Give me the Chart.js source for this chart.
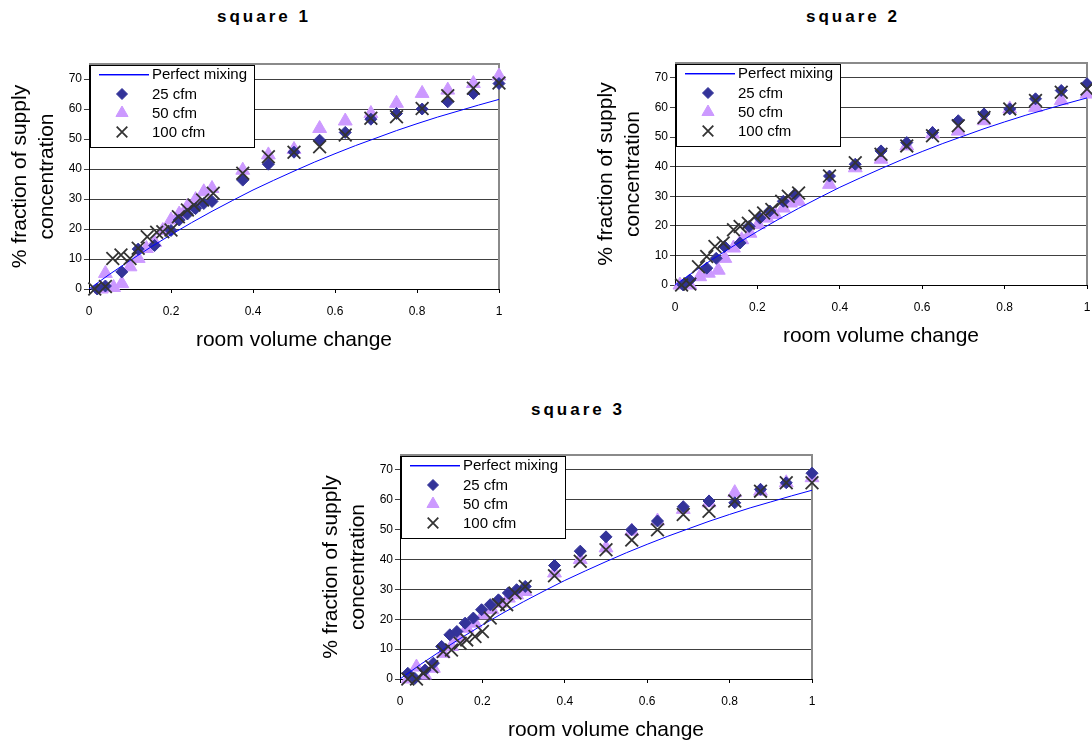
<!DOCTYPE html>
<html>
<head>
<meta charset="utf-8">
<script src="https://cdn.jsdelivr.net/npm/chart.js@4.4.1/dist/chart.umd.min.js"></script>
<style>
  html, body { margin: 0; padding: 0; background: #fff; }
  body { width: 1092px; height: 740px; overflow: hidden; position: relative; font-family: "Liberation Sans", Arial, sans-serif; }
  .title { position: absolute; font-weight: bold; font-size: 17px; line-height: 17px; letter-spacing: 3px; white-space: nowrap; color: #000; }
  canvas { position: absolute; }
</style>
</head>
<body>
<div class="title" style="left:217px;top:8px">square 1</div>
<div class="title" style="left:806px;top:8px">square 2</div>
<div class="title" style="left:531px;top:401px">square 3</div>
<canvas id="sq1" width="546" height="320" style="left:0;top:40px"></canvas>
<canvas id="sq2" width="546" height="316" style="left:586px;top:40px"></canvas>
<canvas id="sq3" width="546" height="319" style="left:311px;top:431px"></canvas>
<script>
// perfect mixing curve
const mixX = [0, 0.05, 0.1, 0.15, 0.2, 0.25, 0.3, 0.35, 0.4, 0.45, 0.5, 0.55, 0.6, 0.65, 0.7, 0.75, 0.8, 0.85, 0.9, 0.95, 1.0];
const mixY = [0, 4.9, 9.5, 13.9, 18.1, 22.1, 25.9, 29.5, 33.0, 36.2, 39.3, 42.3, 45.1, 47.8, 50.3, 52.8, 55.1, 57.3, 59.3, 61.3, 63.2];

const seriesLabels = ['Perfect mixing', '25 cfm', '50 cfm', '100 cfm'];
const xTitle = 'room volume change';
const yTitle = ['% fraction of supply', 'concentration'];

// square 1
const sq1x25 = [0.02, 0.04, 0.08, 0.12, 0.16, 0.2, 0.22, 0.24, 0.26, 0.28, 0.3, 0.375, 0.4375, 0.5, 0.5625, 0.625, 0.6875, 0.75, 0.8125, 0.875, 0.9375, 1.0];
const sq1y25 = [0, 1, 5.7, 13.3, 14.5, 19.5, 23, 25, 26.8, 28.5, 29.2, 36.3, 41.6, 45.6, 49.6, 52.2, 56.6, 58.5, 60, 62.4, 65.2, 68.5];
const sq1x50 = [0.03, 0.04, 0.06, 0.08, 0.1, 0.12, 0.14, 0.16, 0.18, 0.2, 0.22, 0.24, 0.26, 0.28, 0.3, 0.375, 0.4375, 0.5, 0.5625, 0.625, 0.6875, 0.75, 0.8125, 0.875, 0.9375, 1.0];
const sq1y50 = [0, 5.2, 0.5, 1.8, 7.4, 10.2, 13.5, 15.5, 19.5, 23, 25, 27.5, 29.8, 32.4, 33.5, 39.6, 44.7, 46.5, 53.5, 56, 58.5, 61.9, 65.2, 66.3, 68.5, 71];
const sq1x100 = [0.014, 0.04, 0.058, 0.078, 0.1, 0.12, 0.142, 0.165, 0.18, 0.2, 0.218, 0.24, 0.256, 0.277, 0.303, 0.375, 0.4375, 0.5, 0.5625, 0.625, 0.6875, 0.75, 0.8125, 0.875, 0.9375, 1.0];
const sq1y100 = [0, 0.8, 10.2, 11.3, 10.2, 13.6, 17.4, 18.9, 19.1, 19.7, 24.1, 26.3, 28, 29.7, 31.9, 38.6, 44.1, 45.6, 47.4, 51.3, 56.9, 57.4, 60.2, 64.4, 66.9, 68.7];

// square 2
const sq2x25 = [0.02, 0.036, 0.077, 0.1, 0.12, 0.158, 0.18, 0.206, 0.23, 0.263, 0.291, 0.375, 0.4375, 0.5, 0.5625, 0.625, 0.6875, 0.75, 0.8125, 0.875, 0.9375, 1.0];
const sq2y25 = [0, 1.7, 5.7, 9, 13, 14.2, 19.8, 22.6, 25, 28.3, 30.6, 36.8, 40.8, 45.3, 48.1, 51.5, 55.5, 57.8, 59.5, 62.9, 65.7, 68];
const sq2x50 = [0.012, 0.036, 0.06, 0.081, 0.105, 0.121, 0.142, 0.162, 0.182, 0.202, 0.223, 0.243, 0.263, 0.28, 0.3, 0.375, 0.4375, 0.5, 0.5625, 0.625, 0.6875, 0.75, 0.8125, 0.875, 0.9375, 1.0];
const sq2y50 = [0, 0, 2.8, 4, 5, 9, 12.5, 15.3, 17.5, 20.4, 22.6, 23.8, 26, 27.7, 28.3, 34, 39.6, 42.5, 47, 51, 52, 55.5, 59.5, 60, 62.3, 64.5];
const sq2x100 = [0.016, 0.036, 0.057, 0.077, 0.097, 0.117, 0.142, 0.158, 0.178, 0.194, 0.215, 0.235, 0.259, 0.275, 0.3, 0.375, 0.4375, 0.5, 0.5625, 0.625, 0.6875, 0.75, 0.8125, 0.875, 0.9375, 1.0];
const sq2y100 = [0, 0.3, 6.2, 9.6, 13, 14.2, 18.7, 19.8, 20.9, 23.2, 24.3, 25.5, 28.3, 30, 31.1, 36.8, 41.3, 44.2, 47, 50.4, 53.8, 56.6, 59.5, 62.3, 65.1, 66.2];

// square 3
const sq3x25 = [0.019, 0.036, 0.061, 0.081, 0.101, 0.121, 0.138, 0.158, 0.178, 0.198, 0.219, 0.239, 0.263, 0.283, 0.304, 0.375, 0.4375, 0.5, 0.5625, 0.625, 0.6875, 0.75, 0.8125, 0.875, 0.9375, 1.0];
const sq3y25 = [1.9, 0.2, 3, 5.3, 10.9, 14.8, 15.9, 18.7, 20.4, 23.2, 24.9, 26.5, 28.8, 29.9, 31, 38, 42.8, 47.6, 50, 52.9, 57.7, 59.6, 59, 63.5, 65.7, 68.9];
const sq3x50 = [0.02, 0.04, 0.06, 0.081, 0.105, 0.125, 0.142, 0.162, 0.182, 0.202, 0.223, 0.243, 0.263, 0.283, 0.304, 0.375, 0.4375, 0.5, 0.5625, 0.625, 0.6875, 0.75, 0.8125, 0.875, 0.9375, 1.0];
const sq3y50 = [0, 4, 1.3, 3.6, 8.6, 10.9, 13.7, 17, 18.7, 21.5, 23.2, 25.4, 27.1, 28.2, 29.3, 35.5, 40, 43.9, 49.5, 52.9, 56.8, 59, 62.4, 62.9, 65.7, 67.4];
const sq3x100 = [0.019, 0.04, 0.057, 0.077, 0.105, 0.125, 0.146, 0.162, 0.182, 0.2, 0.219, 0.239, 0.259, 0.279, 0.304, 0.375, 0.4375, 0.5, 0.5625, 0.625, 0.6875, 0.75, 0.8125, 0.875, 0.9375, 1.0];
const sq3y100 = [0, 0, 1.9, 4.1, 9.2, 9.7, 12, 13.1, 14.2, 15.9, 20.4, 24.9, 24.9, 28.8, 31, 34.6, 39.4, 43.3, 46.5, 50, 55.1, 56.2, 59.6, 62.9, 65.7, 65.7];

const mixColor = '#0000ff';
const c25 = '#333399';
const c50 = '#cc99ff';
const c100 = '#333333';

Chart.defaults.font.family = '"Liberation Sans", Arial, sans-serif';
Chart.defaults.color = '#000';

function pts(xs, ys) {
  return xs.map((x, i) => ({ x: x, y: ys[i] }));
}

// gray frame on top and right of the plot area
const plotFrame = {
  id: 'plotFrame',
  beforeDatasetsDraw(chart) {
    const ctx = chart.ctx, a = chart.chartArea;
    ctx.save();
    ctx.strokeStyle = '#8a8a8a';
    ctx.lineWidth = 2;
    ctx.beginPath();
    ctx.moveTo(a.left, a.top);
    ctx.lineTo(a.right, a.top);
    ctx.lineTo(a.right, a.bottom);
    ctx.stroke();
    ctx.restore();
  }
};

// boxed legend in the top-left corner of the plot
const boxLegend = {
  id: 'boxLegend',
  afterDraw(chart) {
    const ctx = chart.ctx, a = chart.chartArea;
    const x0 = Math.round(a.left) + 1, y0 = Math.round(a.top) + 1, w = 164, h = 82;
    const rows = [9, 29, 48, 67];
    const sizes = [0, 5.5, 7, 7.5];
    ctx.save();
    ctx.fillStyle = '#fff';
    ctx.fillRect(x0, y0, w, h);
    ctx.strokeStyle = '#000';
    ctx.lineWidth = 1;
    ctx.strokeRect(x0 + 0.5, y0 + 0.5, w, h);
    ctx.font = '15px "Liberation Sans", Arial, sans-serif';
    ctx.textBaseline = 'middle';
    chart.data.datasets.forEach((ds, i) => {
      const y = y0 + rows[i];
      if (i === 0) {
        ctx.fillStyle = mixColor;
        ctx.fillRect(x0 + 9, y, 50, 1);
        ctx.fillStyle = 'rgba(0, 0, 255, 0.45)';
        ctx.fillRect(x0 + 9, y + 1, 50, 1);
      } else {
        ctx.fillStyle = ds.backgroundColor;
        ctx.strokeStyle = ds.borderColor;
        ctx.lineWidth = ds.borderWidth;
        Chart.helpers.drawPoint(ctx, { pointStyle: ds.pointStyle, radius: sizes[i], borderWidth: ds.borderWidth, rotation: 0 }, x0 + 32, y);
      }
      ctx.fillStyle = '#000';
      ctx.fillText(ds.label, x0 + 62, y + 1);
    });
    ctx.restore();
  }
};

function makeChart(id, x25, y25, x50, y50, x100, y100, padTop, padRight, xBoxH) {
  return new Chart(document.getElementById(id), {
    type: 'scatter',
    data: {
      datasets: [
        { label: seriesLabels[0], data: pts(mixX, mixY), showLine: true, borderColor: mixColor, borderWidth: 1, pointRadius: 0, order: 1, clip: false },
        { label: seriesLabels[1], data: pts(x25, y25), pointStyle: 'rectRot', pointRadius: 6, backgroundColor: c25, borderColor: c25, borderWidth: 1, order: 2, clip: false },
        { label: seriesLabels[2], data: pts(x50, y50), pointStyle: 'triangle', pointRadius: 8, backgroundColor: c50, borderColor: c50, borderWidth: 1, order: 3, clip: false },
        { label: seriesLabels[3], data: pts(x100, y100), pointStyle: 'crossRot', pointRadius: 9, backgroundColor: c100, borderColor: c100, borderWidth: 1.8, order: 0, clip: false }
      ]
    },
    options: {
      responsive: false,
      animation: false,
      devicePixelRatio: 1,
      layout: { padding: { top: padTop, right: padRight, left: 0, bottom: 0 } },
      plugins: {
        legend: { display: false },
        tooltip: { enabled: false },
        title: { display: false }
      },
      scales: {
        x: {
          type: 'linear',
          min: 0,
          max: 1,
          afterFit: (s) => { s.height = xBoxH; },
          ticks: { stepSize: 0.2, color: '#000', font: { size: 12 }, padding: 11, maxRotation: 0,
                   callback: (v) => String(Number(v.toFixed(1))) },
          grid: { drawOnChartArea: false, drawTicks: true, tickLength: 4, color: '#000' },
          border: { color: '#000', width: 1 },
          title: { display: true, text: xTitle, color: '#000', font: { size: 21 }, padding: { top: 0, bottom: 7 } }
        },
        y: {
          min: 0,
          max: 75,
          afterFit: (s) => { s.width = 89; },
          ticks: { stepSize: 10, includeBounds: false, color: '#000', font: { size: 12 }, padding: 2 },
          grid: { color: '#404040', tickLength: 5 },
          border: { color: '#000', width: 1 },
          title: { display: true, text: yTitle, color: '#000', font: { size: 21, lineHeight: 1.29 }, padding: { top: 6.5, bottom: 0 } }
        }
      }
    },
    plugins: [plotFrame, boxLegend]
  });
}

makeChart('sq1', sq1x25, sq1y25, sq1x50, sq1y50, sq1x100, sq1y100, 24, 47, 71);
makeChart('sq2', sq2x25, sq2y25, sq2x50, sq2y50, sq2x100, sq2y100, 23, 45, 71);
makeChart('sq3', sq3x25, sq3y25, sq3x50, sq3y50, sq3x100, sq3y100, 24, 45, 71);
</script>
</body>
</html>
